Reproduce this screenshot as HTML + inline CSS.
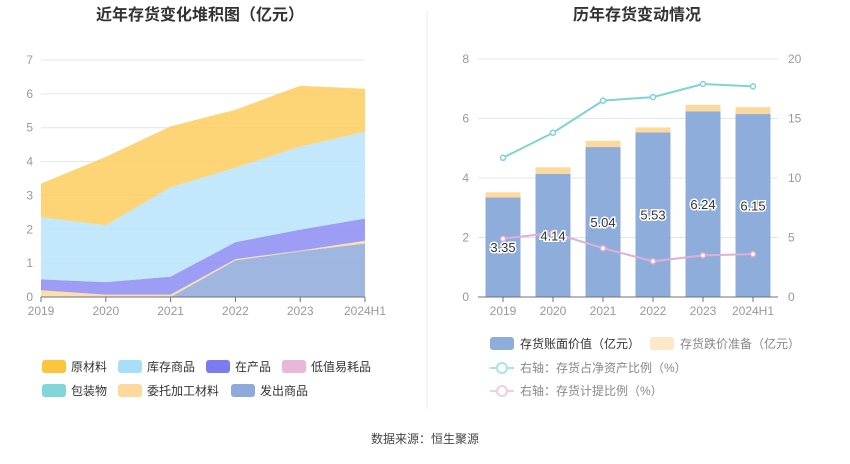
<!DOCTYPE html>
<html><head><meta charset="utf-8"><style>
body{margin:0;background:#fff;font-family:"Liberation Sans","Noto Sans CJK SC",sans-serif;}
svg text{font-family:"Liberation Sans","Noto Sans CJK SC",sans-serif;}
</style></head><body>
<svg id="c" width="850" height="459" xmlns="http://www.w3.org/2000/svg">
<text x="200" y="20" text-anchor="middle" font-size="16" font-weight="bold" fill="#333">近年存货变化堆积图（亿元）</text>
<text x="637" y="20" text-anchor="middle" font-size="16" font-weight="bold" fill="#333">历年存货变动情况</text>
<line x1="427" y1="10" x2="427" y2="410" stroke="#eee"/>
<g id="left"></g><g id="right"></g>
<text x="425" y="443" text-anchor="middle" font-size="12" fill="#444">数据来源：恒生聚源</text>
</svg>
<script>
const cats=["2019","2020","2021","2022","2023","2024H1"];
const sFachu=[0,0,0,1.08,1.35,1.58];
const sWeituo=[0.2,0.07,0.07,0.04,0.02,0.08];
const sBaozhuang=[0,0,0,0,0,0];
const sDizhi=[0,0,0,0,0,0];
const sZaichan=[0.32,0.37,0.53,0.5,0.62,0.66];
const sKucun=[1.84,1.68,2.64,2.2,2.45,2.56];
const sYuan=[0.99,2.02,1.8,1.71,1.8,1.27];
const leftTicks=[0,1,2,3,4,5,6,7];
const bookVal=[3.35,4.14,5.04,5.53,6.24,6.15];
const reserve=[0.17,0.22,0.21,0.17,0.22,0.23];
const ratioNet=[11.7,13.8,16.5,16.8,17.9,17.7];
const ratioProv=[4.9,5.4,4.1,3.0,3.5,3.6];
const rightTicksL=[0,2,4,6,8];
const rightTicksR=[0,5,10,15,20];
const NS="http://www.w3.org/2000/svg";
function mk(p,t,a){const e=document.createElementNS(NS,t);for(const k in a)e.setAttribute(k,a[k]);p.appendChild(e);return e;}
// left
const L=document.getElementById('left');
const lx=i=>41+i*(365-41)/(cats.length-1), ly=v=>297-v*(297-60)/7;
leftTicks.forEach(t=>{const g=mk(L,'line',{x1:41,x2:365,y1:ly(t),y2:ly(t),stroke:'#e0e6f1'});

const tx=mk(L,'text',{x:33,y:ly(t)+4,'text-anchor':'end','font-size':12,fill:'#999'});tx.textContent=t;
});
const layers=[[sFachu,'#8eaadb','shipped-goods-area'],[sWeituo,'#fdd99b','outsourced-material-area'],[sBaozhuang,'#80d6d8','packaging-area'],[sDizhi,'#f0b8d8','low-value-area'],[sZaichan,'#8c8cf5','wip-area'],[sKucun,'#b8e4fa','finished-goods-area'],[sYuan,'#fdcc5e','raw-material-area']];
let base=cats.map(()=>0);
layers.forEach(([s,c,n])=>{const top=base.map((b,i)=>b+s[i]);
let d='M'+top.map((v,i)=>lx(i)+','+ly(v)).join(' L');
for(let i=cats.length-1;i>=0;i--)d+=' L'+lx(i)+','+ly(base[i]);
const p=mk(L,'path',{d:d+'Z',fill:c,opacity:0.85});
base=top;});
mk(L,'line',{x1:41,x2:365,y1:297,y2:297,stroke:'#6e7079'});
cats.forEach((c,i)=>{mk(L,'line',{x1:lx(i),x2:lx(i),y1:297,y2:302,stroke:'#6e7079'});
const t=mk(L,'text',{x:lx(i),y:315,'text-anchor':'middle','font-size':12,fill:'#999'});t.textContent=c;
});
const lleg=[['原材料','#fdc43e',42,367],['库存商品','#a8defa',118,367],['在产品','#7b7bf2',206,367],['低值易耗品','#e8b8d8',282,367],['包装物','#80d6d8',42,391],['委托加工材料','#fdd99b',118,391],['发出商品','#8eaadb',231,391]];
lleg.forEach(([t,c,x,y])=>{const r=mk(L,'rect',{x:x,y:y-7,width:24,height:13,rx:3,fill:c});

const tx=mk(L,'text',{x:x+29,y:y+4,'font-size':12,fill:'#333'});tx.textContent=t;
});
// right
const R=document.getElementById('right');
const bw=50, rx=i=>478+bw*(i+0.5), ry=v=>297-v*(297-59)/8, ry2=v=>297-v*(297-59)/20;
rightTicksL.forEach((t,k)=>{const g=mk(R,'line',{x1:478,x2:778,y1:ry(t),y2:ry(t),stroke:'#e0e6f1'});

const a=mk(R,'text',{x:469,y:ry(t)+4,'text-anchor':'end','font-size':12,fill:'#999'});a.textContent=t;

const b=mk(R,'text',{x:788,y:ry(t)+4,'font-size':12,fill:'#999'});b.textContent=rightTicksR[k];
});
cats.forEach((c,i)=>{const x=rx(i)-17.5;
const b=mk(R,'rect',{x:x,y:ry(bookVal[i]),width:35,height:297-ry(bookVal[i]),fill:'#8eaddb'});

const r=mk(R,'rect',{x:x,y:ry(bookVal[i]+reserve[i]),width:35,height:ry(bookVal[i])-ry(bookVal[i]+reserve[i]),fill:'#fdd99b'});

mk(R,'line',{x1:rx(i),x2:rx(i),y1:297,y2:302,stroke:'#6e7079'});
const t=mk(R,'text',{x:rx(i),y:315,'text-anchor':'middle','font-size':12,fill:'#999'});t.textContent=c;
});
mk(R,'line',{x1:478,x2:778,y1:297,y2:297,stroke:'#6e7079'});
function line(arr,c,n){const p=mk(R,'polyline',{points:arr.map((v,i)=>rx(i)+','+ry2(v)).join(' '),fill:'none',stroke:c,'stroke-width':2});

arr.forEach((v,i)=>{const d=mk(R,'circle',{cx:rx(i),cy:ry2(v),r:2.5,fill:'#fff',stroke:c,'stroke-width':1.5});
});}
line(ratioNet,'#7fd3d7','net-asset-ratio-line');
line(ratioProv,'#e0afd6','provision-ratio-line');
cats.forEach((c,i)=>{const y=ry(bookVal[i]/2)+5;
const t=mk(R,'text',{x:rx(i),y:y,'text-anchor':'middle','font-size':13,fill:'#333',stroke:'#fff','stroke-width':3,'paint-order':'stroke'});t.textContent=bookVal[i].toFixed(2);
});
const rl=[['存货账面价值（亿元）','#8eaddb','rect',490,344,'#333'],['存货跌价准备（亿元）','#fde8c8','rect',650,344,'#888'],['右轴：存货占净资产比例（%）','#a8e4e6','line',490,368,'#888'],['右轴：存货计提比例（%）','#f0cce6','line',490,391,'#888']];
rl.forEach(([t,c,k,x,y,tc])=>{let s;
if(k=='rect')s=mk(R,'rect',{x:x,y:y-7,width:24,height:13,rx:3,fill:c});
else{s=mk(R,'g',{});mk(s,'line',{x1:x,x2:x+24,y1:y,y2:y,stroke:c,'stroke-width':2});mk(s,'circle',{cx:x+12,cy:y,r:5,fill:'#fff',stroke:c,'stroke-width':2});}

const tx=mk(R,'text',{x:x+30,y:y+4,'font-size':12,fill:tc});tx.textContent=t;
});
</script>
</body></html>
